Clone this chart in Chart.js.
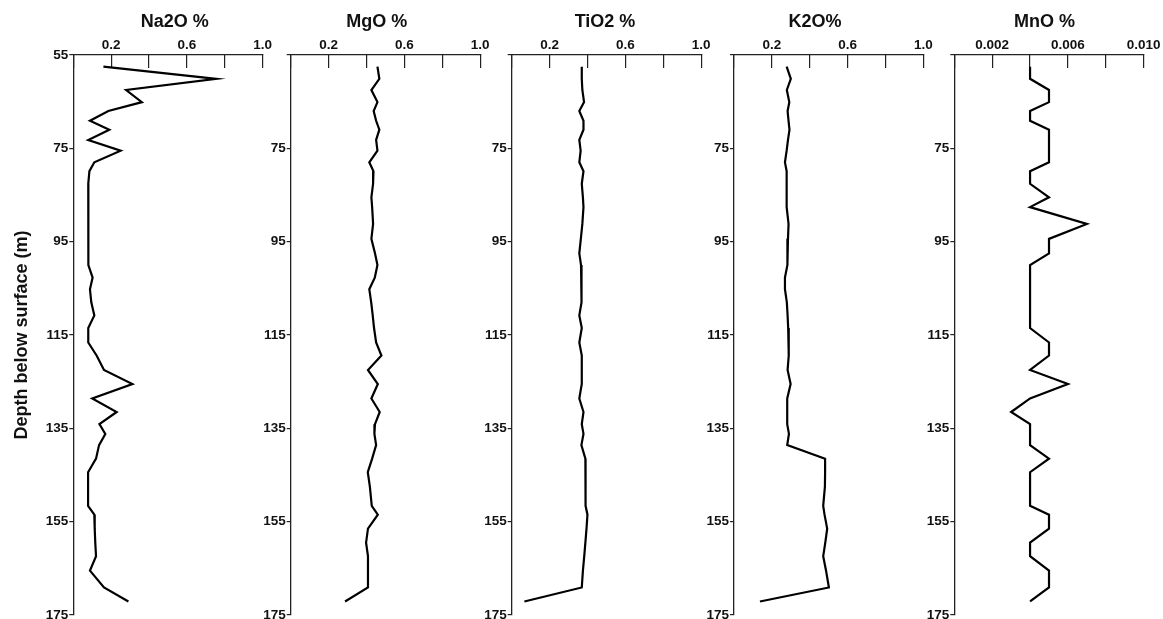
<!DOCTYPE html>
<html>
<head>
<meta charset="utf-8">
<script src="https://cdn.jsdelivr.net/npm/chart.js@4.4.1/dist/chart.umd.min.js"></script>
<style>
  html, body { margin: 0; padding: 0; background: #fff; overflow: hidden; }
  #wrap { position: relative; width: 1163px; height: 619px; overflow: hidden; }
  #wrap canvas { position: absolute; left: 0; top: 0; }
</style>
</head>
<body>
<div id="wrap"></div>
<script>
// sample depths (m) shared by all five profiles
const depth = [57.5, 60.1, 62.5, 65.1, 67.0, 69.1, 71.0, 73.2, 75.5, 78.0,
  79.9, 82.6, 85.5, 87.6, 91.2, 94.4, 97.5, 100.0, 102.7, 105.2,
  108.0, 110.8, 113.5, 116.6, 119.4, 122.5, 125.5, 128.6, 131.5, 134.1,
  136.2, 138.6, 141.5, 144.4, 147.5, 151.6, 153.5, 156.5, 159.5, 162.4,
  165.5, 169.1, 172.1];

const na2o = [0.159, 0.755, 0.279, 0.362, 0.185, 0.088, 0.19, 0.079, 0.25, 0.111,
  0.085, 0.079, 0.082, 0.079, 0.079, 0.079, 0.079, 0.079, 0.102, 0.088,
  0.095, 0.111, 0.079, 0.079, 0.123, 0.162, 0.312, 0.1, 0.229, 0.138,
  0.169, 0.136, 0.12, 0.078, 0.078, 0.078, 0.111, 0.113, 0.116, 0.12,
  0.088, 0.162, 0.291];

const mgo = [0.458, 0.468, 0.426, 0.458, 0.438, 0.451, 0.468, 0.451, 0.458, 0.415,
  0.437, 0.435, 0.426, 0.43, 0.435, 0.426, 0.445, 0.458, 0.444, 0.415,
  0.425, 0.433, 0.44, 0.451, 0.479, 0.408, 0.46, 0.426, 0.47, 0.445,
  0.442, 0.451, 0.43, 0.407, 0.418, 0.428, 0.46, 0.408, 0.398, 0.408,
  0.408, 0.408, 0.287];

const tio2 = [0.37, 0.37, 0.373, 0.382, 0.357, 0.379, 0.379, 0.357, 0.364, 0.357,
  0.379, 0.37, 0.376, 0.379, 0.373, 0.365, 0.357, 0.366, 0.367, 0.369,
  0.37, 0.357, 0.37, 0.357, 0.37, 0.37, 0.37, 0.357, 0.379, 0.37,
  0.379, 0.368, 0.389, 0.389, 0.389, 0.392, 0.4, 0.395, 0.389, 0.383,
  0.376, 0.37, 0.067];

const k2o = [0.278, 0.3, 0.279, 0.292, 0.283, 0.288, 0.293, 0.285, 0.278, 0.269,
  0.278, 0.278, 0.278, 0.278, 0.288, 0.285, 0.283, 0.281, 0.269, 0.269,
  0.279, 0.283, 0.286, 0.288, 0.29, 0.283, 0.299, 0.281, 0.281, 0.281,
  0.29, 0.281, 0.481, 0.481, 0.48, 0.471, 0.478, 0.492, 0.482, 0.471,
  0.486, 0.501, 0.137];

const mno = [0.004, 0.004, 0.005, 0.005, 0.004, 0.004, 0.005, 0.005, 0.005, 0.005,
  0.004, 0.004, 0.005, 0.004, 0.007, 0.005, 0.005, 0.004, 0.004, 0.004,
  0.004, 0.004, 0.004, 0.005, 0.005, 0.004, 0.006, 0.004, 0.003, 0.004,
  0.004, 0.004, 0.005, 0.004, 0.004, 0.004, 0.005, 0.005, 0.004, 0.004,
  0.005, 0.005, 0.004];

const titles = ['Na2O %', 'MgO %', 'TiO2 %', 'K2O%', 'MnO %'];
const pctLabels = ['', '0.2', '', '0.6', '', '1.0'];
const mnoLabels = ['', '0.002', '', '0.006', '', '0.010'];
const depthLabels = ['55', '75', '95', '115', '135', '155', '175'];

// layout (pixels)
const panelLeft = [73.3, 290.7, 511.7, 734, 954.3];
const titleX = [174.8, 376.7, 605, 815, 1044.5];
const panelW = 189.4;
const CW = 1200, CH = 640;

const FONT = '"Liberation Sans", Arial, Helvetica, sans-serif';
Chart.defaults.font.family = FONT;
Chart.defaults.color = '#111';

const panelTitle = {
  id: 'panelTitle',
  afterDraw(chart, args, opts) {
    const ctx = chart.ctx;
    ctx.save();
    ctx.font = 'bold 18px ' + FONT;
    ctx.fillStyle = '#111';
    ctx.textAlign = 'center';
    ctx.textBaseline = 'middle';
    ctx.fillText(opts.text, opts.x, 22);
    ctx.restore();
  }
};

const panels = [
  { values: na2o, max: 1, step: 0.2, labels: pctLabels },
  { values: mgo, max: 1, step: 0.2, labels: pctLabels },
  { values: tio2, max: 1, step: 0.2, labels: pctLabels },
  { values: k2o, max: 1, step: 0.2, labels: pctLabels },
  { values: mno, max: 0.01, step: 0.002, labels: mnoLabels }
];

const wrap = document.getElementById('wrap');

panels.forEach((p, idx) => {
  const canvas = document.createElement('canvas');
  canvas.width = CW;
  canvas.height = CH;
  wrap.appendChild(canvas);

  const yw = idx === 0 ? panelLeft[0] : 40;

  new Chart(canvas, {
    type: 'line',
    data: {
      datasets: [{
        data: depth.map((d, j) => ({ x: p.values[j], y: d })),
        borderColor: '#000',
        borderWidth: 2.2,
        pointRadius: 0,
        tension: 0,
        fill: false
      }]
    },
    options: {
      responsive: false,
      animation: false,
      indexAxis: 'y',
      layout: {
        padding: {
          left: panelLeft[idx] - yw,
          right: CW - panelLeft[idx] - panelW,
          top: 0,
          bottom: CH - 615
        }
      },
      plugins: {
        legend: { display: false },
        tooltip: { enabled: false },
        panelTitle: { text: titles[idx], x: titleX[idx] }
      },
      scales: {
        x: {
          type: 'linear',
          position: 'top',
          min: 0,
          max: p.max,
          ticks: {
            stepSize: p.step,
            autoSkip: false,
            maxRotation: 0,
            padding: 15,
            font: { size: 13.5, weight: 'bold' },
            color: '#111',
            callback: (v, i) => p.labels[i]
          },
          grid: { drawOnChartArea: false, tickLength: -13, color: '#222', lineWidth: 1.2 },
          border: { color: '#222', width: 1.3 },
          afterFit: s => { s.height = 55; }
        },
        y: {
          type: 'linear',
          reverse: true,
          min: 55,
          max: 175,
          ticks: {
            stepSize: 20,
            padding: 1,
            font: { size: 13.5, weight: 'bold' },
            color: '#111',
            callback: v => {
              const k = Math.round((v - 55) / 20);
              return (k === 0 && idx > 0) ? '' : depthLabels[k];
            }
          },
          grid: { drawOnChartArea: false, tickLength: 4, color: '#222', lineWidth: 1.2 },
          border: { color: '#222', width: 1.3 },
          title: {
            display: idx === 0,
            text: 'Depth below surface (m)',
            font: { size: 18, weight: 'bold' },
            color: '#111',
            padding: { top: 11, bottom: 0 }
          },
          afterFit: s => { s.width = yw; }
        }
      }
    },
    plugins: [panelTitle]
  });
});
</script>
</body>
</html>
